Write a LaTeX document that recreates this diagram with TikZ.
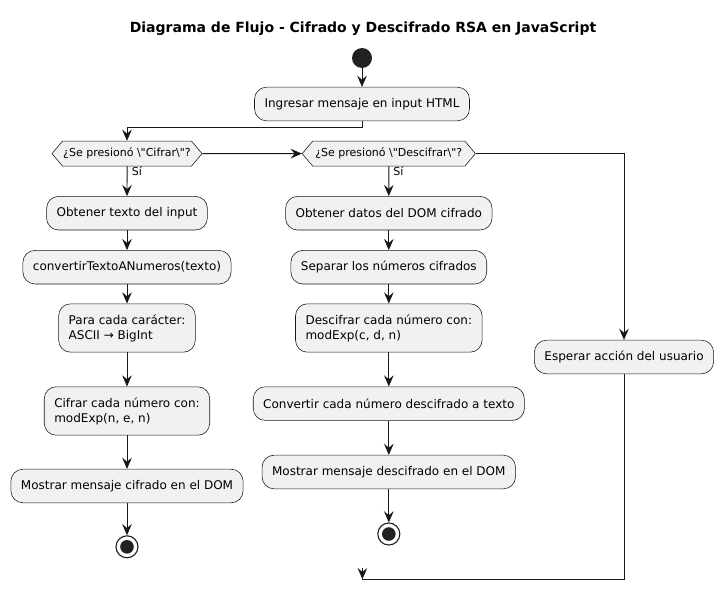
\documentclass[tikz,border=0pt]{standalone}
\usepackage{fontspec}
\setmainfont{DejaVu Sans}
\usetikzlibrary{arrows.meta,shapes.symbols}
\definecolor{ln}{HTML}{181818}
\definecolor{bg}{HTML}{F1F1F1}
\definecolor{dot}{HTML}{222222}

\begin{document}
\begin{tikzpicture}[
  box/.style={draw=ln,fill=bg,line width=0.4pt,rounded corners=0.3cm,minimum height=0.84cm,inner xsep=0.25cm,inner ysep=0.1cm,align=left,font=\fontsize{8.54}{10.7}\selectfont},
  cond/.style={signal,signal to=west and east,signal pointer angle=100,draw=ln,fill=bg,line width=0.4pt,minimum height=0.625cm,inner sep=0pt,font=\fontsize{7.82}{9}\selectfont},
  arr/.style={draw=ln,line width=0.7pt,-{Stealth[length=0.28cm,width=0.24cm,inset=0.1cm]}},
  lbl/.style={inner sep=0pt,anchor=west,font=\fontsize{7.82}{9}\selectfont},
  fin/.style={circle,draw=dot,line width=0.8pt,fill=white,minimum size=0.55cm,inner sep=0pt}
]
      \useasboundingbox (0,0) rectangle (18.075,-14.75);

      \node[font=\fontsize{9.96}{12}\selectfont\bfseries] (t) at (9.075,-0.725){Diagrama de Flujo - Cifrado y Descifrado RSA en JavaScript};
      \node[circle,fill=dot,minimum size=0.5cm,inner sep=0pt] (s) at (9.05,-1.45){};
      \node[box] (a) at (9.05,-2.6){Ingresar mensaje en input HTML};

      \node[cond,minimum width=3.75cm] (p) at (3.175,-3.84){¿Se presionó \textbackslash\textquotedbl Cifrar\textbackslash\textquotedbl?};
      \node[cond,minimum width=4.33cm] (q) at (9.72,-3.84){¿Se presionó \textbackslash\textquotedbl Descifrar\textbackslash\textquotedbl?};
      \node[lbl] (y1) at (3.29,-4.275){Sí};
      \node[lbl] (y2) at (9.83,-4.275){Sí};

      \node[box] (b1) at (3.175,-5.33){Obtener texto del input};
      \node[box] (b2) at (3.175,-6.68){convertirTextoANumeros(texto)};
      \node[box,minimum height=1.21cm] (b3) at (3.175,-8.2){Para cada carácter:\\ASCII → BigInt};
      \node[box,minimum height=1.21cm] (b4) at (3.175,-10.275){Cifrar cada número con:\\modExp(n, e, n)};
      \node[box] (b5) at (3.175,-12.15){Mostrar mensaje cifrado en el DOM};
      \node[fin] (e1) at (3.175,-13.67){};

      \node[box] (c1) at (9.72,-5.33){Obtener datos del DOM cifrado};
      \node[box] (c2) at (9.72,-6.68){Separar los números cifrados};
      \node[box,minimum height=1.21cm] (c3) at (9.72,-8.2){Descifrar cada número con:\\modExp(c, d, n)};
      \node[box] (c4) at (9.72,-10.09){Convertir cada número descifrado a texto};
      \node[box] (c5) at (9.72,-11.8){Mostrar mensaje descifrado en el DOM};
      \node[fin] (e2) at (9.72,-13.35){};

      \node[box] (w) at (15.6,-8.925){Esperar acción del usuario};
      \coordinate (f) at (9.06,-14.48);

      \fill[dot] (e1.center) circle (0.17);
      \fill[dot] (e2.center) circle (0.17);

      \draw[arr] (s) -- (a);
      \draw[arr] (a.south) -- ++(0,-0.15) -| (p.north);
      \draw[arr] (p) -- (q);
      \draw[arr] (q.east) -| (w.north);
      \draw[arr] (p) -- (b1);
      \draw[arr] (b1) -- (b2);
      \draw[arr] (b2) -- (b3);
      \draw[arr] (b3) -- (b4);
      \draw[arr] (b4) -- (b5);
      \draw[arr] (b5) -- (e1);
      \draw[arr] (q) -- (c1);
      \draw[arr] (c1) -- (c2);
      \draw[arr] (c2) -- (c3);
      \draw[arr] (c3) -- (c4);
      \draw[arr] (c4) -- (c5);
      \draw[arr] (c5) -- (e2);
      \draw[draw=ln,line width=0.7pt] (w.south) |- (f);
      \draw[arr] ([yshift=0.28cm]f) -- (f);
\end{tikzpicture}
\end{document}
